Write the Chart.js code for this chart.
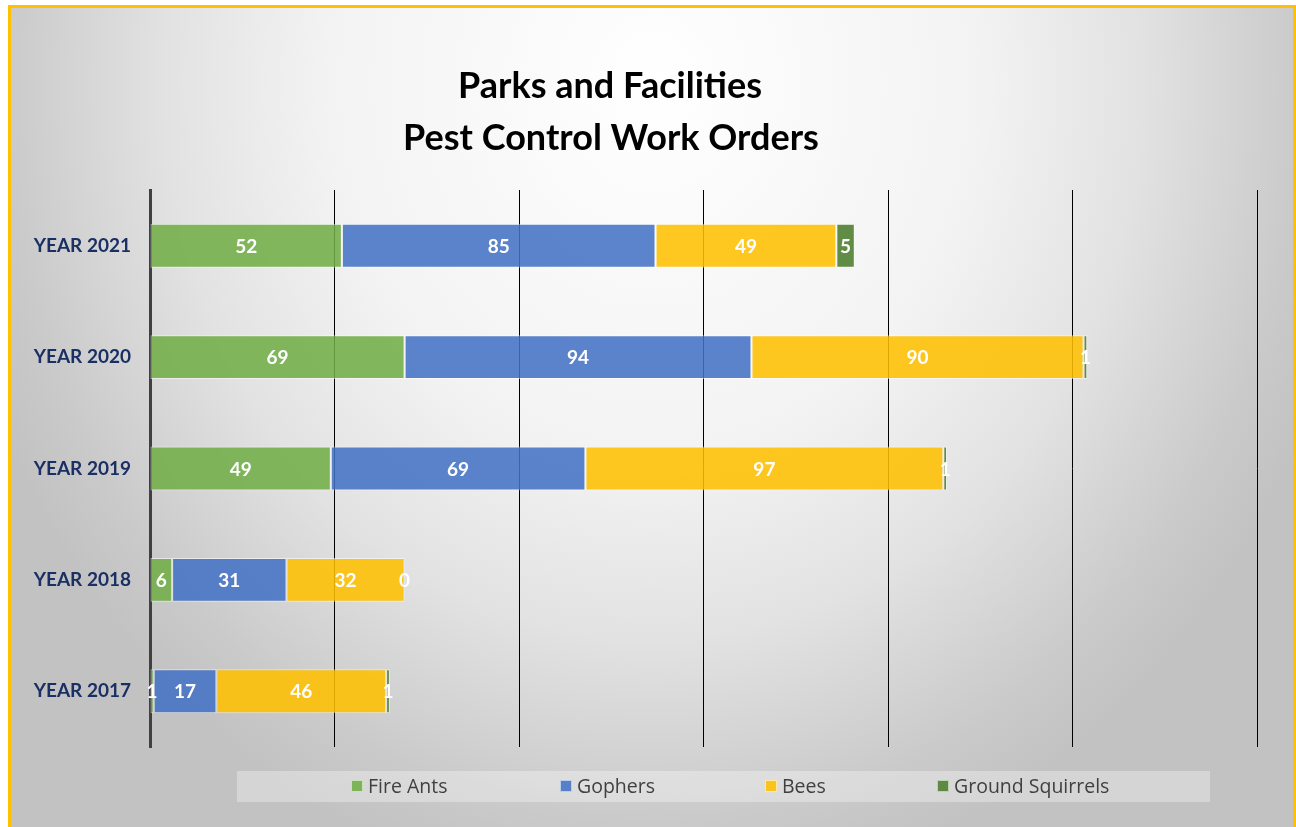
<!DOCTYPE html>
<html>
<head>
<meta charset="utf-8">
<script src="https://cdn.jsdelivr.net/npm/chart.js@4/dist/chart.umd.min.js"></script>
<style>
  html, body { margin: 0; padding: 0; width: 1296px; height: 827px; overflow: hidden; background: #ffffff; }
  #frame {
    position: absolute; left: 8px; top: 5px; width: 1288px; height: 840px;
    box-sizing: border-box; border: 3px solid #FFC000;
    background: radial-gradient(ellipse 720px 820px at 642px 75px, #ffffff 0%, #f3f3f3 45%, #e2e2e2 68%, #cacaca 90%, #c2c2c2 100%);
  }
  #wrap { position: absolute; left: 0; top: 0; width: 1296px; height: 827px; }
</style>
</head>
<body>
<div id="frame"></div>
<div id="wrap"><canvas id="c" width="1296" height="827"></canvas></div>
<script>
const categories = ['YEAR 2021', 'YEAR 2020', 'YEAR 2019', 'YEAR 2018', 'YEAR 2017'];
const fireAnts = [52, 69, 49, 6, 1];
const gophers = [85, 94, 69, 31, 17];
const bees = [49, 90, 97, 32, 46];
const groundSquirrels = [5, 1, 1, 0, 1];
const seriesNames = ['Fire Ants', 'Gophers', 'Bees', 'Ground Squirrels'];
const titleLines = ['Parks and Facilities', 'Pest Control Work Orders'];

const colors = ['rgba(112,173,71,0.87)', 'rgba(68,114,196,0.87)', 'rgba(255,192,0,0.87)', 'rgba(84,130,53,0.92)'];
const seriesData = [fireAnts, gophers, bees, groundSquirrels];

const datasets = seriesNames.map((name, i) => ({
  label: name,
  data: seriesData[i],
  backgroundColor: colors[i],
  borderColor: 'rgba(255,255,255,0.55)',
  borderWidth: 1,
  borderSkipped: false,
  categoryPercentage: 1,
  barPercentage: 0.394
}));

const titlePlugin = {
  id: 'customTitle',
  afterDraw(chart) {
    const ctx = chart.ctx;
    ctx.save();
    ctx.fillStyle = '#000000';
    ctx.font = 'bold 36px Lato';
    ctx.textAlign = 'center';
    ctx.textBaseline = 'middle';
    ctx.fillText(titleLines[0], 610, 86);
    ctx.fillText(titleLines[1], 611, 138);
    ctx.restore();
  }
};

const labelPlugin = {
  id: 'barLabels',
  afterDatasetsDraw(chart) {
    const ctx = chart.ctx;
    ctx.save();
    ctx.fillStyle = '#ffffff';
    ctx.font = 'bold 19px Lato';
    ctx.textAlign = 'center';
    ctx.textBaseline = 'middle';
    chart.data.datasets.forEach((ds, di) => {
      const meta = chart.getDatasetMeta(di);
      meta.data.forEach((el, i) => {
        const cx = (el.x + el.base) / 2;
        ctx.fillText(String(ds.data[i]), cx, el.y + 1);
      });
    });
    ctx.restore();
  }
};

const legendPlugin = {
  id: 'customLegend',
  afterDraw(chart) {
    const ctx = chart.ctx;
    const xs = [351, 560, 765, 937];
    ctx.save();
    ctx.fillStyle = 'rgba(255,255,255,0.32)';
    ctx.fillRect(237, 771, 973, 31);
    ctx.font = '19.5px "Open Sans"';
    ctx.textBaseline = 'middle';
    ctx.textAlign = 'left';
    chart.data.datasets.forEach((ds, i) => {
      const x = xs[i];
      ctx.fillStyle = ds.backgroundColor;
      ctx.fillRect(x, 780, 12, 12);
      ctx.strokeStyle = 'rgba(255,255,255,0.6)';
      ctx.lineWidth = 1;
      ctx.strokeRect(x + 0.5, 780.5, 11, 11);
      ctx.fillStyle = '#404040';
      ctx.fillText(ds.label, x + 17, 787);
    });
    ctx.restore();
  }
};

new Chart(document.getElementById('c'), {
  type: 'bar',
  data: { labels: categories, datasets },
  options: {
    indexAxis: 'y',
    responsive: false,
    animation: false,
    layout: { padding: { left: 0, right: 39, top: 190, bottom: 80 } },
    plugins: { legend: { display: false }, title: { display: false }, tooltip: { enabled: false } },
    scales: {
      x: {
        stacked: true,
        min: 0, max: 300,
        ticks: { display: false, stepSize: 50 },
        grid: { color: '#000000', lineWidth: 1, drawTicks: false },
        border: { display: false },
        afterFit(scale) { scale.height = 0; }
      },
      y: {
        stacked: true,
        grid: { display: false, drawTicks: false },
        border: { display: true, color: '#404040', width: 3 },
        ticks: { color: '#1a2f63', font: { family: 'Lato', weight: 'bold', size: 19 }, padding: 19 },
        afterFit(scale) { scale.width = 150; }
      }
    }
  },
  plugins: [titlePlugin, labelPlugin, legendPlugin]
});
</script>
</body>
</html>
